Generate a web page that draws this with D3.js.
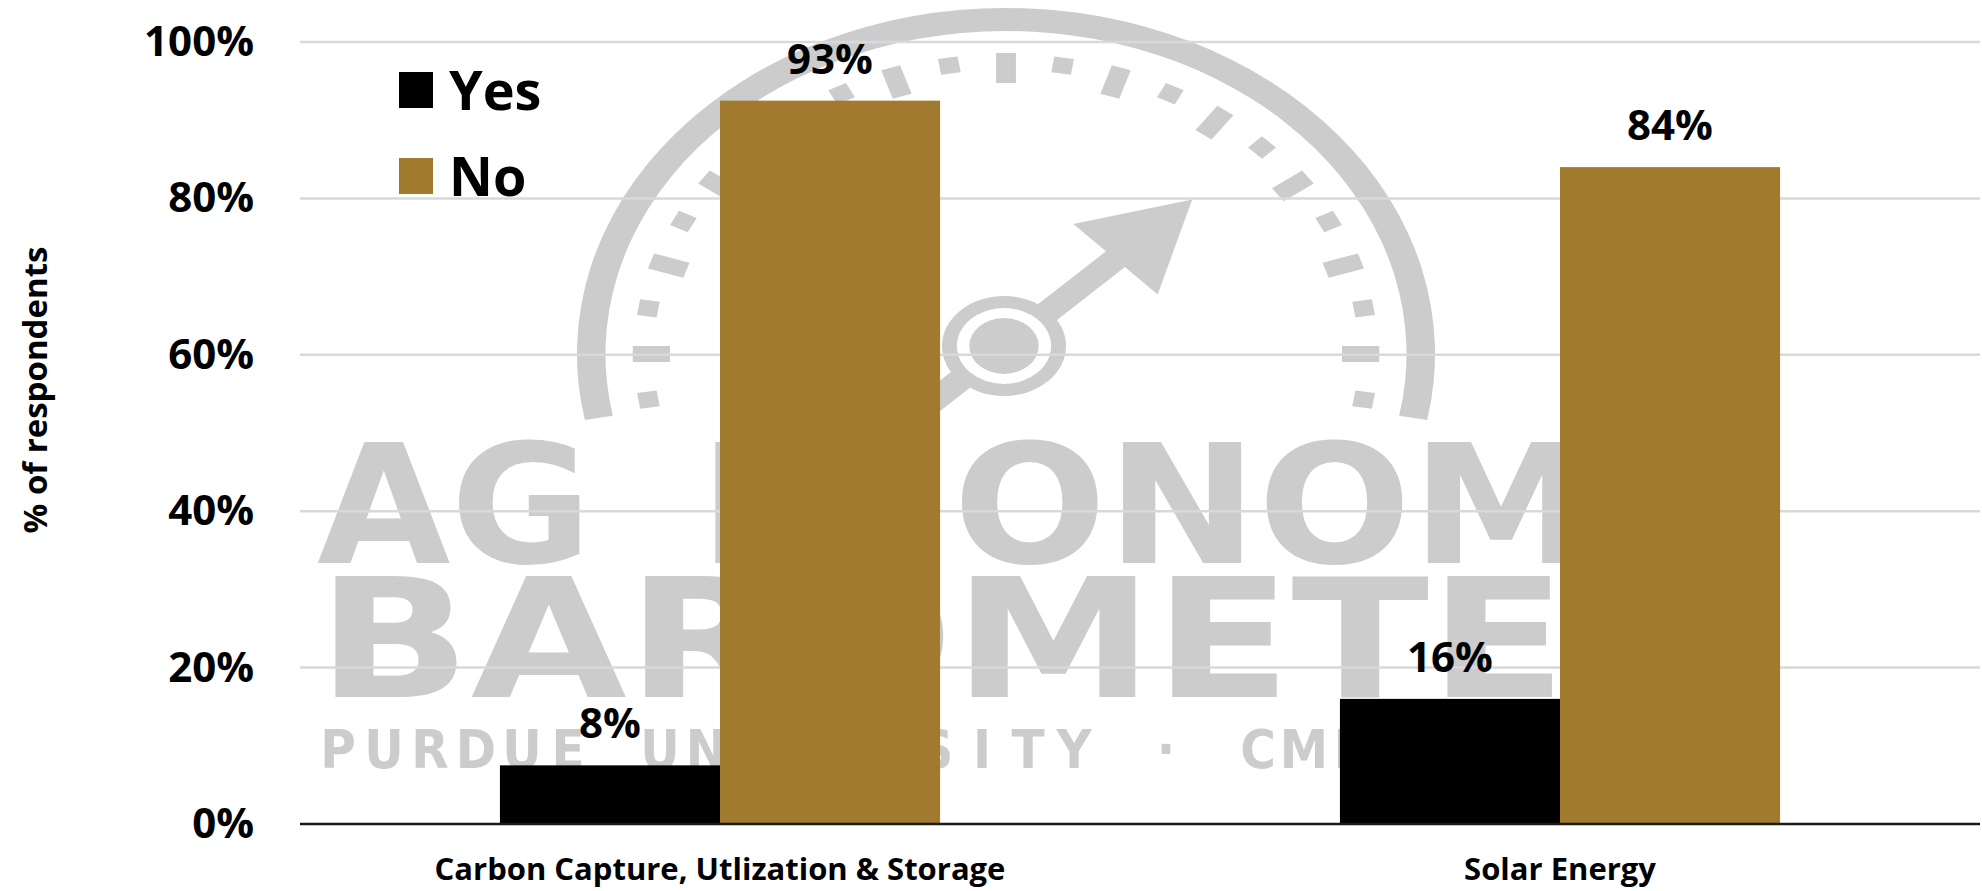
<!DOCTYPE html>
<html>
<head>
<meta charset="utf-8">
<script src="https://cdn.jsdelivr.net/npm/d3@7"></script>
<style>
  body { margin: 0; background: #fff; }
  svg { display: block; }
</style>
</head>
<body>
<svg id="chart"></svg>
<script>
const categories = ["Carbon Capture, Utlization & Storage", "Solar Energy"];
const seriesNames = ["Yes", "No"];
const yesValues = [7.5, 16];
const noValues = [92.5, 84];
const yTicks = [0, 20, 40, 60, 80, 100];
const seriesColors = ["#000000", "#a27a2d"];

const width = 1982, height = 891;
const margin = {top: 42, right: 2, bottom: 67, left: 300};
const textFont = "'Open Sans', 'DejaVu Sans', sans-serif";
const wmColor = "#cccccc";

let svg = d3.select("#chart").attr("width", width).attr("height", height);
svg.append("rect").attr("width", width).attr("height", height).attr("fill", "#fff");

let x0 = d3.scaleBand()
    .domain(categories)
    .range([margin.left, width - margin.right])
    .paddingInner(0.476)
    .paddingOuter(0.238);

let x1 = d3.scaleBand()
    .domain(seriesNames)
    .range([0, x0.bandwidth()]);

let y = d3.scaleLinear()
    .domain([0, 100])
    .range([height - margin.bottom, margin.top]);

let color = d3.scaleOrdinal().domain(seriesNames).range(seriesColors);

let rows = categories.map((c, i) => ({
    category: c,
    values: [
        {series: "Yes", value: yesValues[i]},
        {series: "No", value: noValues[i]}
    ]
}));

// --- watermark (gauge logo, stretched sideways like the source image)
let wm = svg.append("g").attr("class", "watermark");
let dial = wm.append("g")
    .attr("transform", "translate(1006,354) scale(1.24,1)")
    .attr("fill", wmColor);

dial.append("path")
    .attr("d", d3.arc()({
        innerRadius: 323, outerRadius: 346,
        startAngle: -101 * Math.PI / 180, endAngle: 101 * Math.PI / 180
    }));

d3.range(23).forEach(i => {
    let a = -9 + 9 * i;
    let long = i % 2 === 1;
    dial.append("rect")
        .attr("transform", `rotate(${-a})`)
        .attr("x", long ? 271 : 284)
        .attr("y", long ? -8 : -8)
        .attr("width", long ? 30 : 16)
        .attr("height", 16);
});

let hub = wm.append("g")
    .attr("transform", "translate(1004,346) scale(1.24,1)")
    .attr("fill", wmColor);

let needle = hub.append("g").attr("transform", "rotate(-44)");
needle.append("rect").attr("x", -110).attr("y", -11).attr("width", 240).attr("height", 22);
needle.append("path").attr("d", "M125,-49 L211,0 L125,49 Z");

hub.append("circle").attr("r", 50);
hub.append("circle").attr("r", 38).attr("fill", "#fff");
hub.append("circle").attr("r", 28);

let bigText = wm.append("g")
    .attr("fill", wmColor)
    .style("font-family", "'DejaVu Sans', sans-serif")
    .style("font-weight", "bold")
    .style("font-size", "165px");

function wmRow(g, baseline, parts) {
    let t = g.append("text").attr("y", baseline);
    parts.forEach(p => {
        t.append("tspan")
            .attr("x", p[1])
            .attr("textLength", p[2] - p[1])
            .attr("lengthAdjust", "spacingAndGlyphs")
            .text(p[0]);
    });
}
wmRow(bigText, 563, [["AG", 317, 592], ["EC", 700, 938], ["ONOMY", 953, 1722]]);
wmRow(bigText, 697, [["BAROMETER", 317, 1722]]);

// small line of the logo: wide, even tracking
let smallLine = "PURDUE UNIVERSITY · CME GROUP".split("");
wm.append("g")
    .attr("fill", wmColor)
    .style("font-family", "'Liberation Sans Narrow', 'DejaVu Sans Condensed', sans-serif")
    .style("font-weight", "bold")
    .style("font-size", "54px")
    .selectAll("text")
    .data(smallLine)
    .enter().append("text")
    .attr("x", (d, i) => 338 + 46 * i)
    .attr("y", 768)
    .attr("text-anchor", "middle")
    .text(d => d);

// --- gridlines
svg.append("g")
    .selectAll("line")
    .data(yTicks.filter(d => d > 0))
    .enter().append("line")
    .attr("x1", margin.left)
    .attr("x2", width - margin.right)
    .attr("y1", d => y(d))
    .attr("y2", d => y(d))
    .attr("stroke", "#d9d9d9")
    .attr("stroke-width", 2.5);

// --- bars
let groups = svg.append("g")
    .selectAll("g")
    .data(rows)
    .enter().append("g")
    .attr("transform", d => `translate(${x0(d.category)},0)`);

groups.selectAll("rect")
    .data(d => d.values)
    .enter().append("rect")
    .attr("x", d => x1(d.series))
    .attr("y", d => y(d.value))
    .attr("width", x1.bandwidth())
    .attr("height", d => y(0) - y(d.value))
    .attr("fill", d => color(d.series));

groups.selectAll("text")
    .data(d => d.values)
    .enter().append("text")
    .attr("x", d => x1(d.series) + x1.bandwidth() / 2)
    .attr("y", d => y(d.value) - 27)
    .attr("text-anchor", "middle")
    .style("font-family", textFont)
    .style("font-weight", "bold")
    .style("font-size", "42px")
    .attr("fill", "#000")
    .text(d => Math.round(d.value) + "%");

// --- baseline
svg.append("line")
    .attr("x1", margin.left)
    .attr("x2", width - margin.right)
    .attr("y1", y(0))
    .attr("y2", y(0))
    .attr("stroke", "#1a1a1a")
    .attr("stroke-width", 2.5);

// --- y axis
let yAxis = svg.append("g")
    .attr("transform", `translate(${margin.left},0)`)
    .call(d3.axisLeft(y).tickValues(yTicks).tickSize(0).tickPadding(46).tickFormat(d => d + "%"));
yAxis.select(".domain").remove();
yAxis.selectAll("text")
    .style("font-family", textFont)
    .style("font-weight", "bold")
    .style("font-size", "42px")
    .attr("fill", "#000");

// --- x axis
let xAxis = svg.append("g")
    .attr("transform", `translate(0,${y(0)})`)
    .call(d3.axisBottom(x0).tickSize(0));
xAxis.select(".domain").remove();
xAxis.selectAll("text")
    .attr("y", 56)
    .attr("dy", null)
    .style("font-family", textFont)
    .style("font-weight", "bold")
    .style("font-size", "31px")
    .attr("fill", "#000");

// --- y title
svg.append("text")
    .attr("transform", `translate(47,${(y(0) + y(100)) / 2 - 43}) rotate(-90)`)
    .attr("text-anchor", "middle")
    .style("font-family", textFont)
    .style("font-weight", "bold")
    .style("font-size", "33px")
    .attr("fill", "#000")
    .text("% of respondents");

// --- legend
let legend = svg.append("g")
    .selectAll("g")
    .data(seriesNames)
    .enter().append("g")
    .attr("transform", (d, i) => `translate(399,${72 + i * 86})`);

legend.append("rect")
    .attr("width", 34)
    .attr("height", 36)
    .attr("fill", d => color(d));

legend.append("text")
    .attr("x", 50)
    .attr("y", 38)
    .style("font-family", textFont)
    .style("font-weight", "bold")
    .style("font-size", "54px")
    .attr("fill", "#000")
    .text(d => d);
</script>
</body>
</html>
